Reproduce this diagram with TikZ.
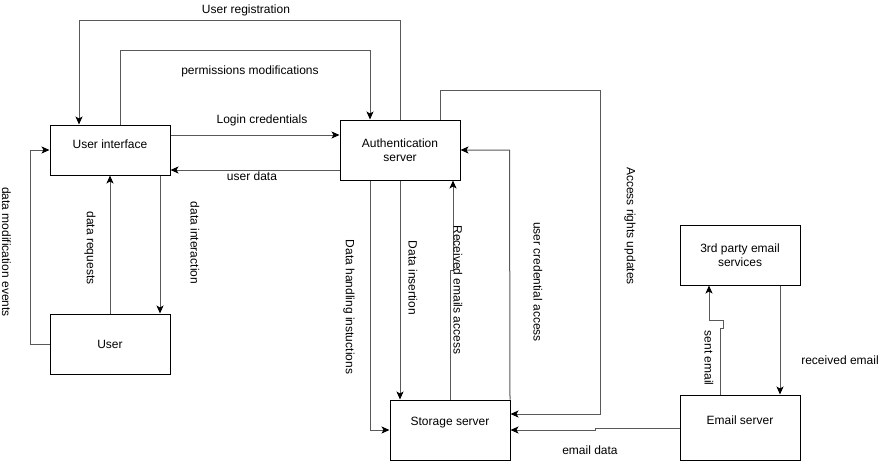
\documentclass[tikz,border=0pt]{standalone}
\usepackage{fontspec}
\setmainfont{Liberation Sans}
\usetikzlibrary{arrows.meta}
\begin{document}
\begin{tikzpicture}[x=1pt,y=-1pt,font=\fontsize{12}{14}\selectfont,
  box/.style={draw=black,line width=1pt,minimum width=120pt,inner sep=0pt,align=center,fill=white},
  conn/.style={draw=black!65,line width=1pt,-{Stealth[black,length=8pt,width=7pt,inset=2pt]}},
  lab/.style={inner sep=0pt,text=black},
  vlab/.style={inner sep=0pt,text=black,rotate=-90}]
\useasboundingbox (0,0) rectangle (891,461);
\fill[white] (0,0) rectangle (891,461);
% boxes
\node[box,minimum height=50pt,label={[lab,yshift=6pt]center:User interface}] (ui) at (110,150) {};
\node[box,minimum height=60pt] (auth) at (400,150) {Authentication\\server};
\node[box,minimum height=60pt] (user) at (110,344) {User};
\node[box,minimum height=60pt,label={[lab,yshift=7pt]center:Storage server}] (stor) at (450,430) {};
\node[box,minimum height=60pt] (third) at (740,255) {3rd party email\\services};
\node[box,minimum height=65pt,label={[lab,yshift=7pt]center:Email server}] (email) at (740,427.5) {};
% connectors
\draw[conn] (auth.north) -- (400,20) -| ([xshift=-31pt]ui.north);
\node[lab] (l1) at (246,10) {User registration};
\draw[conn] ([xshift=10pt]ui.north) -- (120,50) -| ([xshift=-30pt]auth.north);
\node[lab] (l2) at (250,71) {permissions modifications};
\draw[conn] (ui.east |- 0,135) -- (auth.west |- 0,135);
\node[lab] (l3) at (262,120) {Login credentials};
\draw[conn] (auth.west |- 0,170) -- (ui.east |- 0,170);
\node[lab] (l4) at (252,176) {user data};
\draw[conn] (user.west) -- (30,344) |- (ui.west);
\node[vlab] (l5) at (6.5,252) {data modification events};
\draw[conn] (user.north) -- (ui.south);
\node[vlab] (l6) at (90,248) {data requests};
\draw[conn] ([xshift=50pt]ui.south) -- ([xshift=50pt]user.north);
\node[vlab] (l7) at (195,243) {data interaction};
\draw[conn] ([xshift=-30pt]auth.south) |- (stor.west);
\node[vlab] (l8) at (349,307) {Data handling instuctions};
\draw[conn] (auth.south) -- (auth.south |- stor.north);
\node[vlab] (l9) at (413,278) {Data insertion};
\draw[conn] (stor.north) -- (450,270) -- (453,270) -- ([xshift=53pt]auth.south);
\node[vlab] (l10) at (458,290) {Received emails access};
\draw[conn] ([xshift=-0.5pt]stor.north east) -- (509.5,150) -- (auth.east |- 0,150);
\node[vlab] (l11) at (538,282) {user credential access};
\draw[conn] ([xshift=40pt]auth.north) -- (440,90) -- (600,90) -- (600,414) -- (stor.east |- 0,414);
\node[vlab] (l12) at (630,226) {Access rights updates};
\draw[conn] (email.west |- 0,428) -- (595,428) -- (595,430) -- (stor.east);
\node[lab] (l13) at (590,450) {email data};
\draw[conn] ([xshift=-20pt]email.north) -- (720,328) -- (723,328) -- (723,320) -- (709,320) -- ([xshift=-31pt]third.south);
\node[vlab] (l14) at (709,358) {sent email};
\draw[conn] ([xshift=40pt]third.south) -- ([xshift=40pt]email.north);
\node[lab] (l15) at (840,360) {received email};
\end{tikzpicture}
\end{document}
